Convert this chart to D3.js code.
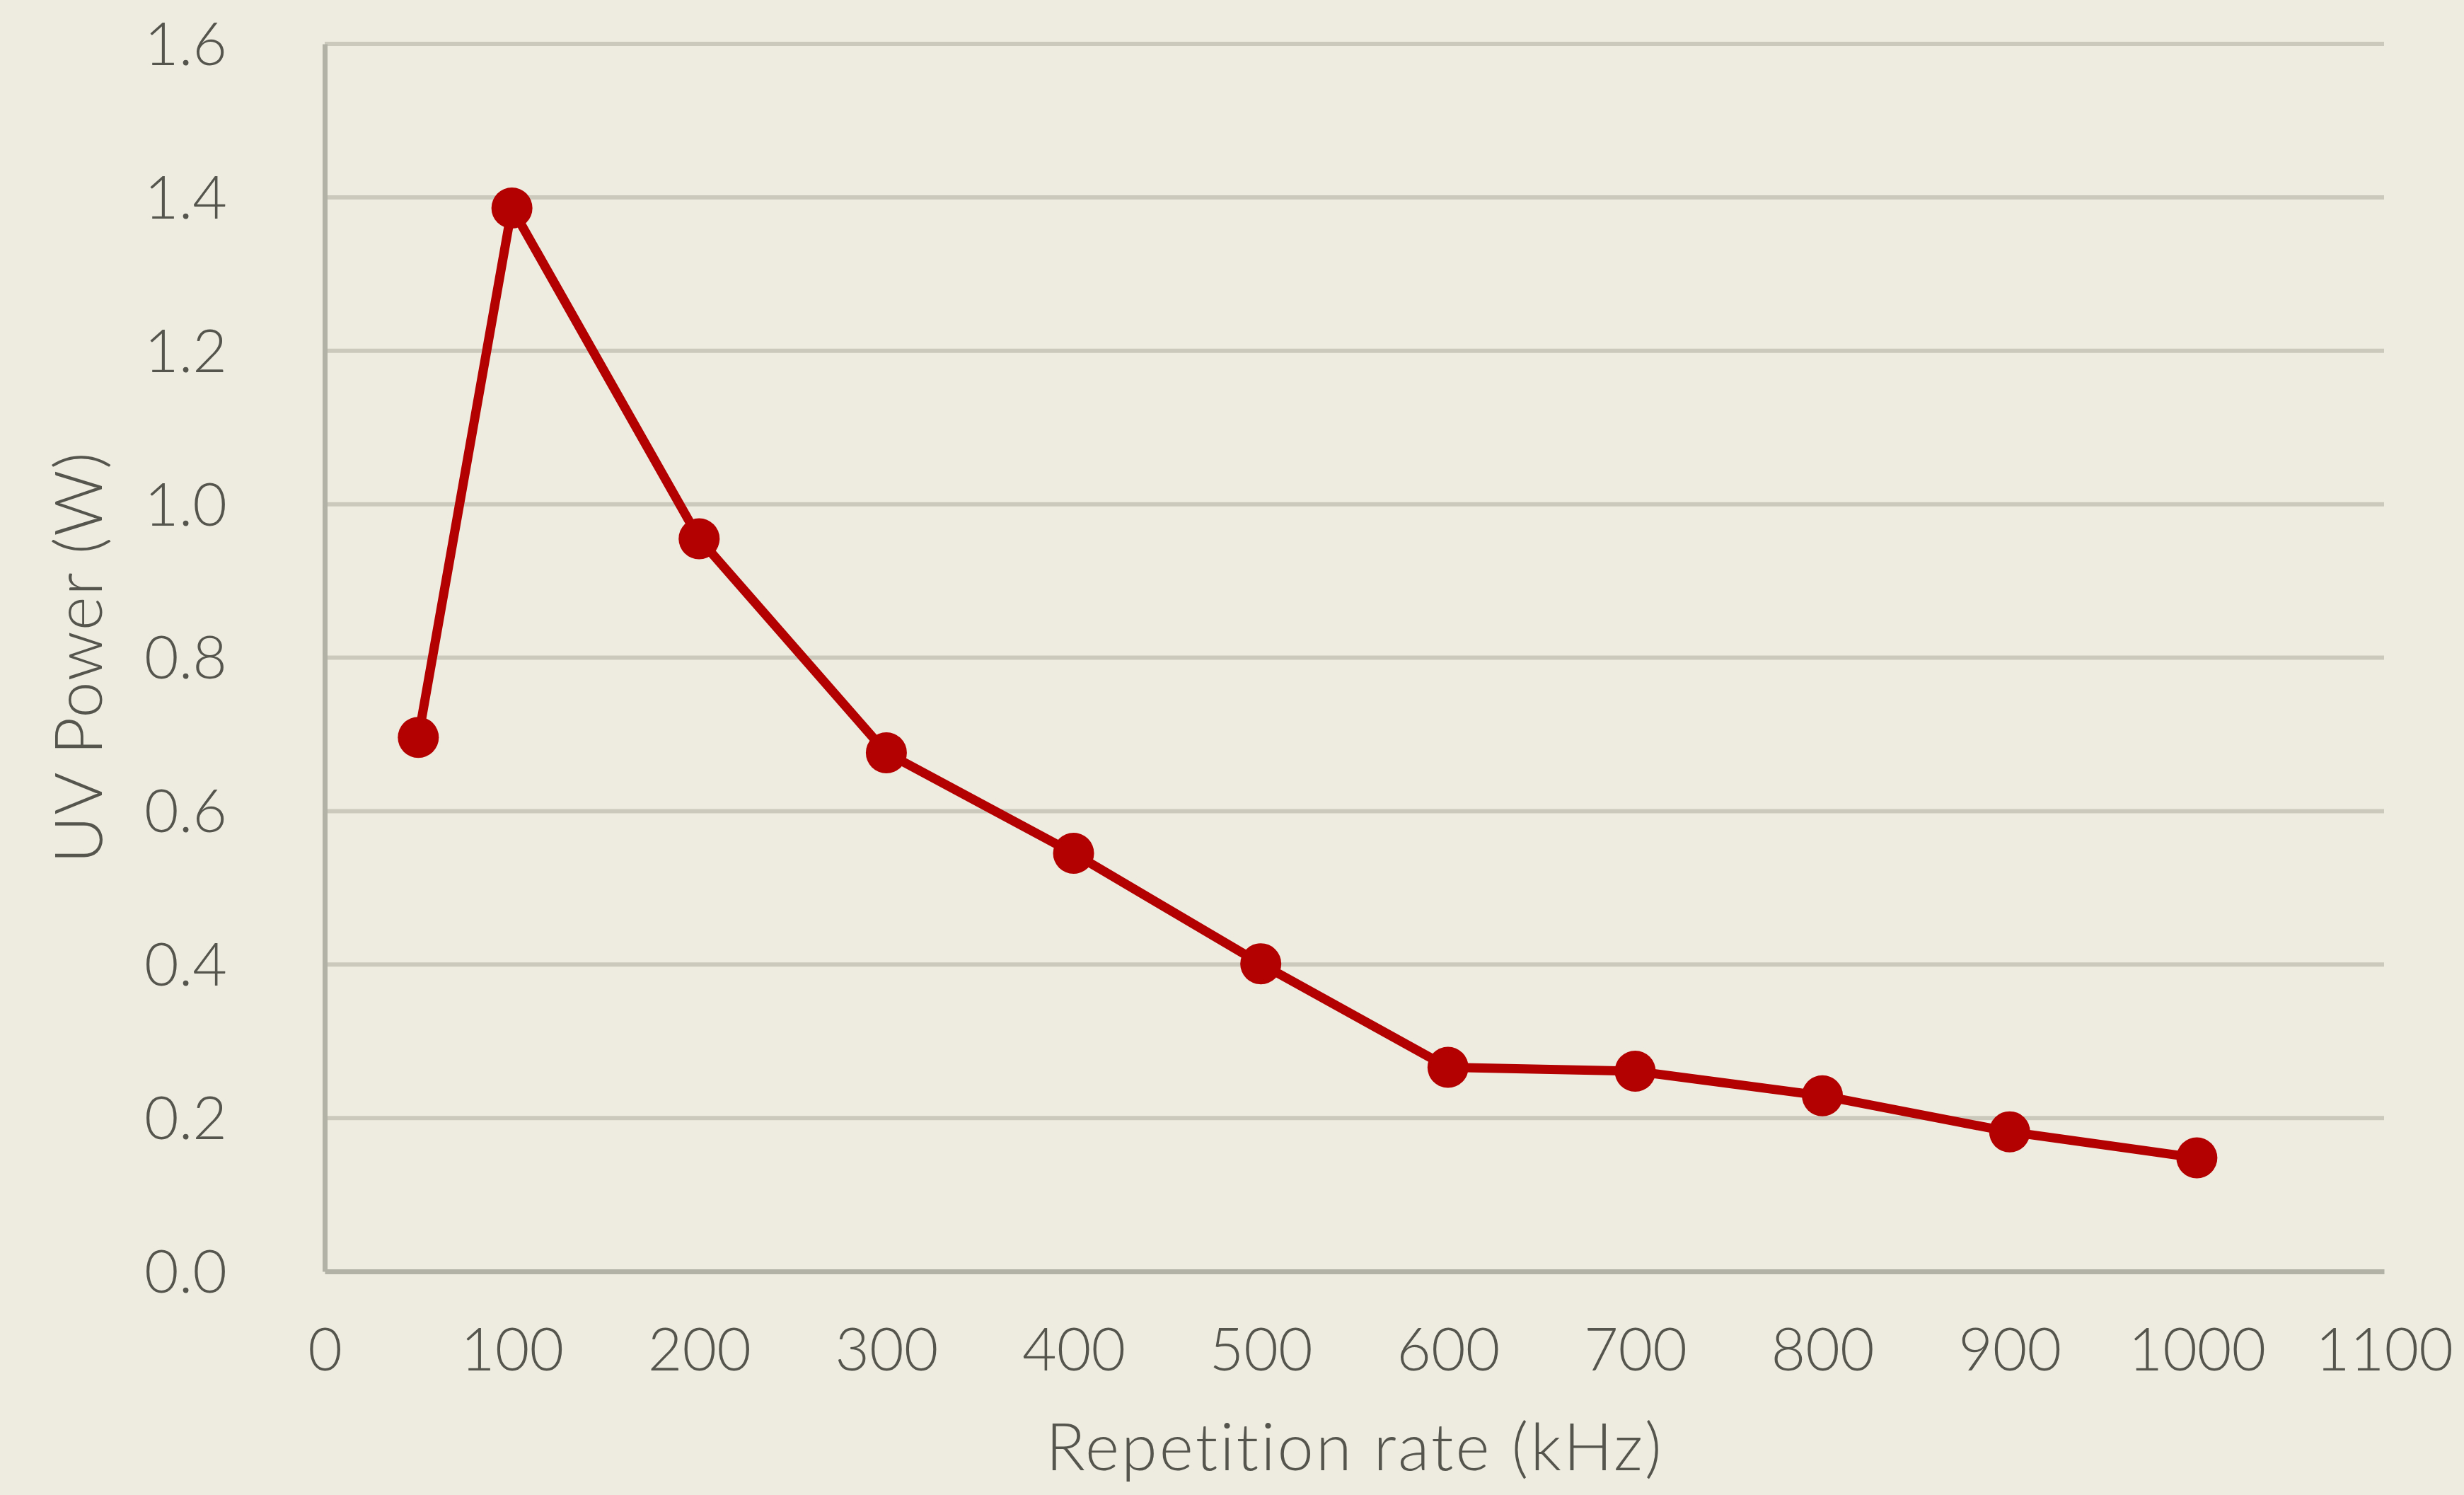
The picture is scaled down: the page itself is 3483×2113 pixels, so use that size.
<!DOCTYPE html>
<html>
<head>
<meta charset="utf-8">
<script src="https://cdnjs.cloudflare.com/ajax/libs/d3/7.8.5/d3.min.js"></script>
<style>
  html, body { margin: 0; padding: 0; background: #eeece0; }
  svg { display: block; }
  .tick text { font-family: Lato, "Open Sans", sans-serif; font-weight: 300; fill: #55554e; }
  .axis-title { font-family: Lato, "Open Sans", sans-serif; font-weight: 300; fill: #55554e; }
</style>
</head>
<body>
<div id="chart"></div>
<script>
var svgWidth = 3483;
var svgHeight = 2113;

var margin = {
  top: 62,
  right: 113,
  bottom: 316,
  left: 459
};

var width = svgWidth - margin.left - margin.right;
var height = svgHeight - margin.top - margin.bottom;

// data
var repRate = [50, 100, 200, 300, 400, 500, 600, 700, 800, 900, 1000];
var uvPower = [0.696, 1.386, 0.955, 0.676, 0.545, 0.401, 0.266, 0.261, 0.229, 0.182, 0.148];
var xTicks = [0, 100, 200, 300, 400, 500, 600, 700, 800, 900, 1000, 1100];
var yTicks = [0, 0.2, 0.4, 0.6, 0.8, 1.0, 1.2, 1.4, 1.6];

var svg = d3.select("#chart")
  .append("svg")
  .attr("width", svgWidth)
  .attr("height", svgHeight);

svg.append("rect")
  .attr("width", svgWidth)
  .attr("height", svgHeight)
  .attr("fill", "#eeece0");

var chartGroup = svg.append("g")
  .attr("transform", `translate(${margin.left}, ${margin.top})`);

var xScale = d3.scaleLinear().domain([0, 1100]).range([0, width]);
var yScale = d3.scaleLinear().domain([0, 1.6]).range([height, 0]);

// horizontal gridlines
chartGroup.append("g")
  .selectAll("line")
  .data(yTicks.filter(d => d > 0))
  .enter()
  .append("line")
  .attr("x1", 0)
  .attr("x2", width)
  .attr("y1", d => yScale(d))
  .attr("y2", d => yScale(d))
  .attr("stroke", "#cbc9bc")
  .attr("stroke-width", 6);

// y axis
var leftAxis = d3.axisLeft(yScale)
  .tickValues(yTicks)
  .tickFormat(d3.format(".1f"))
  .tickSize(0)
  .tickPadding(138);

var yAxis = chartGroup.append("g").call(leftAxis);
yAxis.select(".domain").attr("stroke", "#b2b2a7").attr("stroke-width", 7);
yAxis.selectAll(".tick text").attr("font-size", 84).attr("dy", "0.35em");

// x axis
var bottomAxis = d3.axisBottom(xScale)
  .tickValues(xTicks)
  .tickFormat(d3.format("d"))
  .tickSize(0)
  .tickPadding(80);

var xAxis = chartGroup.append("g")
  .attr("transform", `translate(0, ${height})`)
  .call(bottomAxis);
xAxis.select(".domain").attr("stroke", "#b2b2a7").attr("stroke-width", 7);
xAxis.selectAll(".tick text").attr("font-size", 84);

// line
var line = d3.line()
  .x((d, i) => xScale(repRate[i]))
  .y(d => yScale(d));

chartGroup.append("path")
  .datum(uvPower)
  .attr("d", line)
  .attr("fill", "none")
  .attr("stroke", "#b30000")
  .attr("stroke-width", 13)
  .attr("stroke-linejoin", "round");

// markers
chartGroup.selectAll("circle")
  .data(uvPower)
  .enter()
  .append("circle")
  .attr("cx", (d, i) => xScale(repRate[i]))
  .attr("cy", d => yScale(d))
  .attr("r", 29)
  .attr("fill", "#b30000");

// axis titles
svg.append("text")
  .attr("class", "axis-title")
  .attr("x", 1915)
  .attr("y", 2078)
  .attr("text-anchor", "middle")
  .attr("font-size", 92)
  .attr("letter-spacing", 3)
  .text("Repetition rate (kHz)");

svg.append("text")
  .attr("class", "axis-title")
  .attr("transform", "translate(144, 929) rotate(-90)")
  .attr("text-anchor", "middle")
  .attr("font-size", 92)
  .attr("letter-spacing", 1.5)
  .text("UV Power (W)");
</script>
</body>
</html>
